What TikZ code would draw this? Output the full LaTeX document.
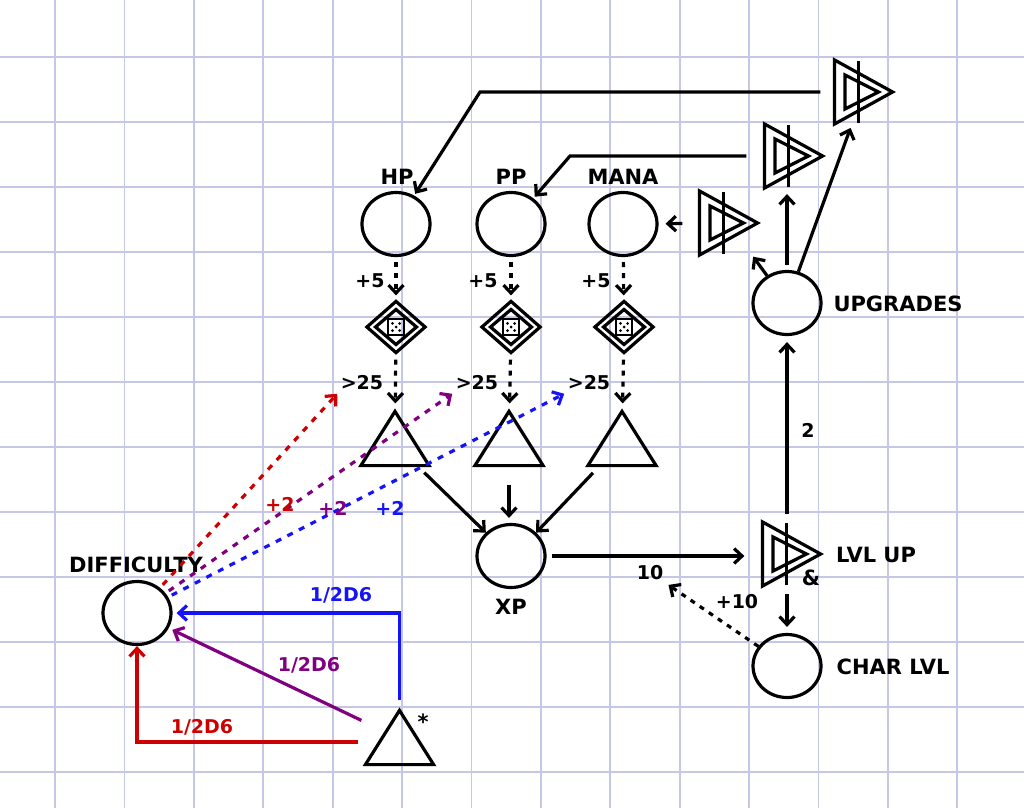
\documentclass[tikz,border=0pt]{standalone}
\usepackage{fontspec}
\setmainfont{DejaVu Sans}
\usetikzlibrary{arrows.meta,shapes.geometric}
\definecolor{cGrid}{RGB}{198,198,230}
\definecolor{cRed}{RGB}{204,0,0}
\definecolor{cPurple}{RGB}{128,0,128}
\definecolor{cBlue}{RGB}{20,20,245}

\tikzset{
  pool/.style={draw, ellipse, minimum width=68pt, minimum height=63pt, inner sep=0pt},
  gatebox/.style={minimum width=55pt, minimum height=48pt, inner sep=0pt},
  drainbox/.style={minimum width=65pt, minimum height=51pt, inner sep=0pt},
  convbox/.style={minimum width=55pt, minimum height=61pt, inner sep=0pt},
  lbl/.style={font=\bfseries\fontsize{21}{23}\selectfont, inner sep=2pt},
  num/.style={font=\bfseries\fontsize{19}{21}\selectfont, inner sep=2pt},
  dashline/.style={dash pattern=on 5pt off 6pt},
  dotline/.style={dash pattern=on 6pt off 7pt}
}

\begin{document}
\begin{tikzpicture}[x=1pt, y=-1pt, line width=3.2pt,
    >={Straight Barb[length=8pt,width=15pt]}]
    \useasboundingbox (0,0) rectangle (1024,808);
    \fill[white] (0,0) rectangle (1024,808);

    % paper grid
    \foreach \gx in {0,...,13}
        \draw[cGrid, line width=1.8pt] (55+69.4*\gx, 0) -- (55+69.4*\gx, 808);
    \foreach \gy in {0,...,11}
        \draw[cGrid, line width=1.8pt] (0, 57+65*\gy) -- (1024, 57+65*\gy);

    % pools
    \node[pool] (hp) at (396,224) {};
    \node[pool] (pp) at (511,224) {};
    \node[pool] (mana) at (623,224) {};
    \node[pool] (xp) at (511,556) {};
    \node[pool] (upg) at (787,303) {};
    \node[pool] (charlvl) at (787,666) {};
    \node[pool] (diff) at (137,613) {};

    \node[lbl] (hplbl) at (397,177) {HP};
    \node[lbl] (pplbl) at (511,177) {PP};
    \node[lbl] (manalbl) at (623,177) {MANA};
    \node[lbl] (xplbl) at (511,607) {XP};
    \node[lbl] (upglbl) at (898,304) {UPGRADES};
    \node[lbl] (lvluplbl) at (876,555) {LVL UP};
    \node[lbl] (charlbl) at (893,667) {CHAR LVL};
    \node[lbl] (difflbl) at (136,565) {DIFFICULTY};

    % dice gates
    \node[gatebox] (hpgate) at (396,327) {};
    \node[gatebox] (ppgate) at (511,327) {};
    \node[gatebox] (managate) at (624,327) {};
    \foreach \n in {hpgate,ppgate,managate} {
        \draw (\n.north) -- (\n.east) -- (\n.south) -- (\n.west) -- cycle;
        \draw[shift={(\n)}] (0,-17.5) -- (20.5,0) -- (0,17.5) -- (-20.5,0) -- cycle;
        \draw[shift={(\n)}, line width=2.2pt] (-8,-8) rectangle (8,8);
        \fill[shift={(\n)}] (-3.6,-3.6) circle (1.5pt) (3.6,-3.6) circle (1.5pt)
            (0,0) circle (1.5pt) (-3.6,3.6) circle (1.5pt) (3.6,3.6) circle (1.5pt);
    }

    % drains
    \node[drainbox] (hpdrain) at (395,438.5) {};
    \node[drainbox] (ppdrain) at (509,438.5) {};
    \node[drainbox] (manadrain) at (622,438.5) {};
    \node[drainbox] (startri) at (399.5,737.5) {};
    \foreach \n in {hpdrain,ppdrain,manadrain,startri}
        \draw (\n.south west) -- (\n.north) -- (\n.south east) -- cycle;
    \node[lbl] (star) at (423,722) {*};

    % converters
    \node[convbox] (hpconv) at (863.5,92) {};
    \node[convbox] (ppconv) at (793.5,156) {};
    \node[convbox] (manaconv) at (728.5,223) {};
    \node[convbox] (lvlup) at (791.5,554) {};
    \foreach \n in {hpconv,ppconv,manaconv,lvlup} {
        \draw (\n.north west) -- (\n.east) -- (\n.south west) -- cycle;
        \draw[shift={(\n)}] (-18.5,-17) -- (15,0) -- (-18.5,17) -- cycle;
        \draw[shift={(\n)}] (-5,-31) -- (-5,31);
    }
    \node[lbl] (amp) at (811,578) {\&};

    % pools to gates to drains
    \foreach \p in {hp,pp,mana} {
        \draw[->, dashline, shorten <=5pt, shorten >=6pt] (\p) -- (\p gate);
        \draw[->, dashline, shorten <=7pt, shorten >=8pt] (\p gate) -- (\p drain);
    }
    \node[num] (hpadd) at (370,281) {+5};
    \node[num] (ppadd) at (483,281) {+5};
    \node[num] (manaadd) at (596,281) {+5};
    \node[num] (hpgt) at (362,383) {>25};
    \node[num] (ppgt) at (477,383) {>25};
    \node[num] (managt) at (589,383) {>25};

    % drains to xp
    \draw[->, shorten <=10pt] ([xshift=-12pt]hpdrain.south east) -- (xp.north west);
    \draw[->, shorten <=19pt, shorten >=5pt] (ppdrain.south) -- (ppdrain.south |- xp.north);
    \draw[->, shorten <=10pt] ([xshift=12pt]manadrain.south west) -- (xp.north east);

    % levelling
    \draw[->, shorten <=5pt, shorten >=18pt] (xp.east) -- (xp.east -| lvlup.west);
    \draw[->, shorten <=8pt, shorten >=6pt] (upg.south |- lvlup.north) -- (upg.south);
    \node[num] (two) at (808,430) {2};
    \draw[->, shorten <=8pt, shorten >=6pt] (charlvl.north |- lvlup.south) -- (charlvl.north);
    \node[num] (ten) at (650,573) {10};
    \node[num] (plusten) at (737,602) {+10};
    \draw[->, dashline, shorten >=2pt] (charlvl) -- (ten.south east);

    % upgrades
    \coordinate (hpbend) at (480,92);
    \coordinate (ppbend) at (570,156);
    \draw[->, shorten >=4pt] (upg) -- (hpconv);
    \draw[->, shorten <=5pt, shorten >=6pt] (upg.north) -- (upg.north |- ppconv.south);
    \draw[->, shorten >=2pt] (upg) -- (manaconv);
    \draw[->, shorten <=14pt, shorten >=2pt] (hpconv.west) -- (hpbend) -- (hp);
    \draw[->, shorten <=18pt, shorten >=2pt] (ppconv.west) -- (ppbend) -- (pp);
    \draw[->, shorten <=17pt, shorten >=7pt] (manaconv.west) -- (mana.east);

    % difficulty
    \draw[->, cRed, dotline, shorten <=4pt] (diff) -- (hpgt.south west);
    \draw[->, cPurple, dotline, shorten <=4pt] (diff) -- (ppgt.south west);
    \draw[->, cBlue, dotline, shorten <=4pt] (diff) -- (managt.south west);
    \node[num, text=cRed] (hpbonus) at (280,504) {+2};
    \node[num, text=cPurple] (ppbonus) at (333,508) {+2};
    \node[num, text=cBlue] (manabonus) at (390,508) {+2};

    \draw[->, cRed] ([xshift=-7pt,yshift=-4.5pt]startri.west) -| (diff.south);
    \draw[->, cPurple, shorten >=4pt] ([xshift=-4pt,yshift=-10pt]startri.north west) -- (diff);
    \draw[->, cBlue, shorten >=4pt] ([yshift=10pt]startri.north) |- (diff.east);
    \node[num, text=cRed] (redroll) at (202,727) {1/2D6};
    \node[num, text=cPurple] (purproll) at (309,665) {1/2D6};
    \node[num, text=cBlue] (blueroll) at (341,595) {1/2D6};
\end{tikzpicture}
\end{document}
